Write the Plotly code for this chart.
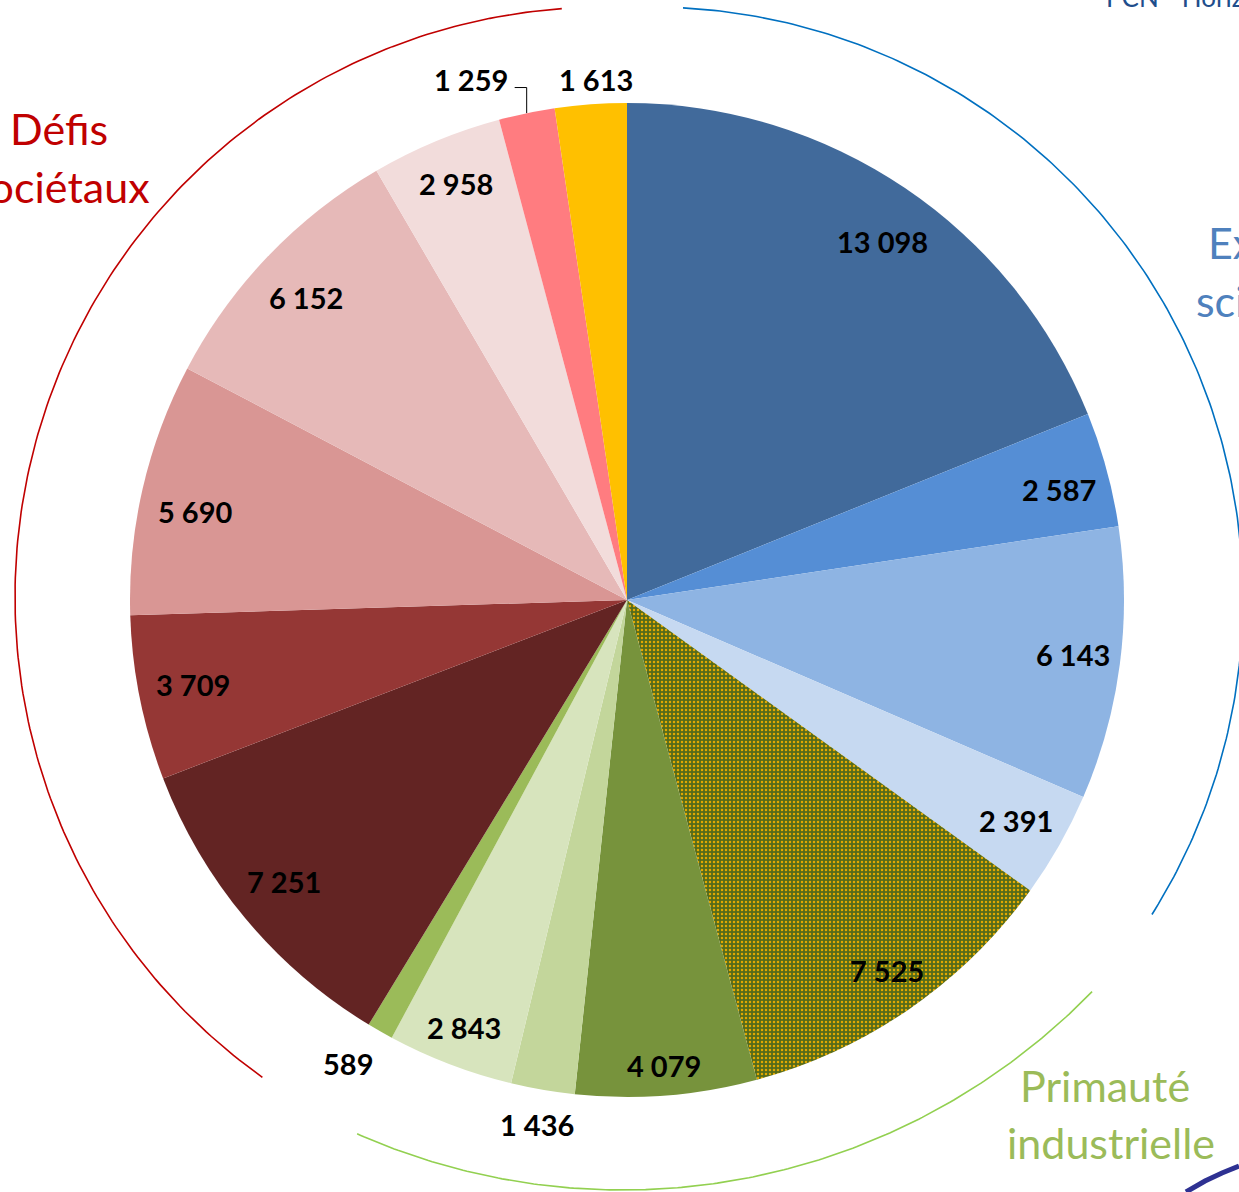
import numpy as np
import plotly.graph_objects as go

# ---------------- data ----------------
values = [13098, 2587, 6143, 2391, 7525, 4079, 1436, 2843, 589,
          7251, 3709, 5690, 6152, 2958, 1259, 1613]
slice_colors = ["#416A9B", "#558ED5", "#8EB4E3", "#C6D9F1", "#556B1A",
                "#77933C", "#C3D69B", "#D7E4BD", "#9BBB59",
                "#632423", "#953735", "#D99694", "#E6B9B8", "#F2DCDB",
                "#FF7C80", "#FFC000"]
group_names = [("Défis", "sociétaux"), ("Excellence", "scientifique"),
               ("Primauté", "industrielle")]
header_text = "PCN - Horizon 2020"

# ---------------- layout constants ----------------
W, H = 1239, 1192
CX, CY, R = 627, 600, 497
label_r = [0.885, 0.897, 0.904, 0.90, 0.91, 0.94, 1.07, 0.92, 1.088,
           0.893, 0.89, 0.887, 0.887, 0.905, 1.093, 1.05]
label_dang = [1.5, 0.9, -0.4, 0, -0.4, 0, 0, 0, 1.3,
              0.5, 0.4, -1.4, -0.5, 0.3, -5.0, 0.8]

vals = np.array(values, dtype=float)
total = vals.sum()
cum = np.cumsum(vals)
mids = (cum - vals / 2) / total * 360.0

fig = go.Figure()

# pie
n = len(values)
shapes_pat = ["." if i == 4 else "" for i in range(n)]
fig.add_trace(go.Pie(
    values=values,
    marker=dict(colors=slice_colors, line=dict(width=0),
                pattern=dict(shape=shapes_pat,
                             fgcolor=["#E2A800"] * n,
                             bgcolor=slice_colors,
                             fillmode="replace",
                             size=4, solidity=0.3)),
    sort=False, direction="clockwise", rotation=0,
    textinfo="none", hoverinfo="skip", showlegend=False,
    domain=dict(x=[(CX - R) / W, (CX + R) / W],
                y=[(H - CY - R) / H, (H - CY + R) / H]),
))


def arc(cx, cy, r, a0, a1, n=200):
    t = np.radians(np.linspace(a0, a1, n))
    return cx + r * np.cos(t), cy + r * np.sin(t)


# decorative group arcs (screen coordinates, y downwards)
arcs = [
    (605, 597, 590, 265.8, 125.5, "#C00000"),
    (651, 599, 592, -86.9, 32.2, "#0070C0"),
    (622.5, 535, 655, 44.2, 113.9, "#92D050"),
]
for cx, cy, r, a0, a1, col in arcs:
    ax_, ay_ = arc(cx, cy, r, a0, a1)
    fig.add_trace(go.Scatter(x=ax_, y=ay_, mode="lines",
                             line=dict(color=col, width=1.6),
                             hoverinfo="skip", showlegend=False))

# logo scribble
fig.add_trace(go.Scatter(x=[1186, 1205, 1222, 1239], y=[1192, 1181, 1173, 1166],
                         mode="lines", line=dict(color="#2E3192", width=5),
                         hoverinfo="skip", showlegend=False))

# value labels
ann = []
for i, v in enumerate(values):
    a = np.radians(mids[i] + label_dang[i])
    x = CX + label_r[i] * R * np.sin(a)
    y = CY - label_r[i] * R * np.cos(a)
    txt = f"{v:,}".replace(",", " ")
    ann.append(dict(x=x, y=y, xref="x", yref="y", text=txt, showarrow=False,
                    font=dict(family="Lato", size=29, color="#000000", weight="bold"),
                    xanchor="center", yanchor="middle"))
    if i == 14:
        am = np.radians(mids[i])
        ex = CX + R * np.sin(am)
        ey = CY - R * np.cos(am)
        fig.add_trace(go.Scatter(x=[ex, ex, ex - 12], y=[ey, y + 8, y + 8],
                                 mode="lines", line=dict(color="#000000", width=1),
                                 hoverinfo="skip", showlegend=False))

# group labels
gfont = dict(family="Lato", size=43)
ann += [
    dict(x=59, y=128, text=group_names[0][0], font=dict(**gfont, color="#C00000"),
         xanchor="center"),
    dict(x=152, y=186, text=group_names[0][1], font=dict(**gfont, color="#C00000"),
         xanchor="right"),
    dict(x=1206, y=242, text=group_names[1][0], font=dict(**gfont, color="#4F81BD"),
         xanchor="left"),
    dict(x=1194, y=300, text=group_names[1][1], font=dict(**gfont, color="#4F81BD"),
         xanchor="left"),
    dict(x=1105, y=1085, text=group_names[2][0], font=dict(**gfont, color="#9BBB59"),
         xanchor="center"),
    dict(x=1111, y=1142, text=group_names[2][1], font=dict(**gfont, color="#9BBB59"),
         xanchor="center"),
    dict(x=1104, y=15, text=header_text, font=dict(family="Lato", size=26, color="#1F4E8C"),
         xanchor="left", yanchor="bottom"),
]
for a in ann[len(values):]:
    a.update(xref="x", yref="y", showarrow=False)
    a.setdefault("yanchor", "middle")

fig.update_layout(
    width=W, height=H, margin=dict(l=0, r=0, t=0, b=0),
    paper_bgcolor="white", plot_bgcolor="white",
    xaxis=dict(range=[0, W], visible=False, fixedrange=True),
    yaxis=dict(range=[H, 0], visible=False, fixedrange=True),
    annotations=ann, showlegend=False,
)
fig.write_html("out.html", config={"displayModeBar": False},
               post_script="document.body.style.margin='0';document.body.style.overflow='hidden';")
